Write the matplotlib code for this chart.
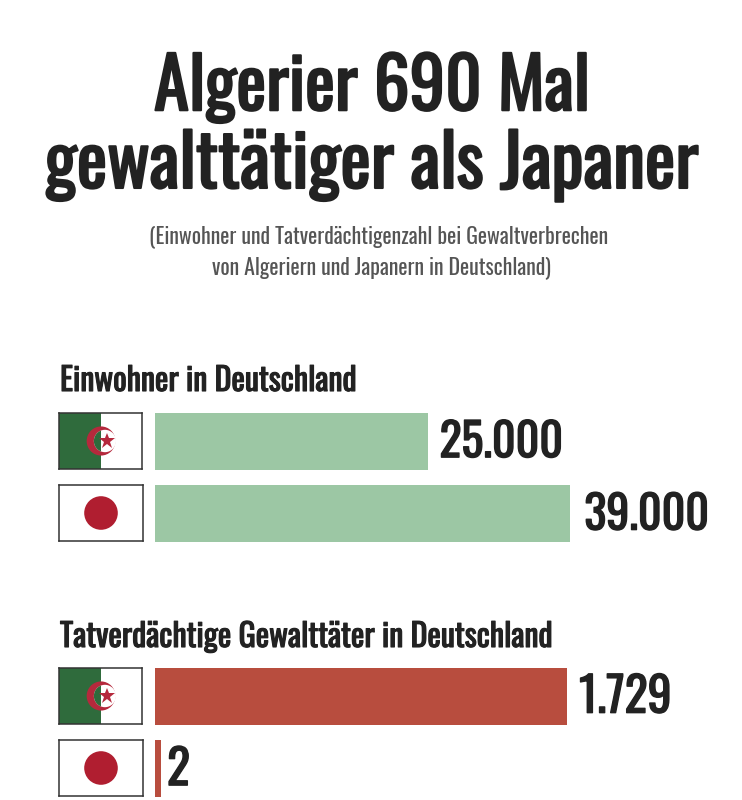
import matplotlib
matplotlib.use('Agg')
import matplotlib.pyplot as plt
import matplotlib.patheffects as pe
from matplotlib import font_manager as fm
from matplotlib.patches import Rectangle, Circle

W, H = 742, 800

laender = ['Algerien', 'Japan']
einwohner_balken = [25700, 39000]
einwohner_labels = ['25.000', '39.000']
taeter_balken = [1729, 25]
taeter_labels = ['1.729', '2']

titel = ['Algerier 690 Mal', 'gewalttätiger als Japaner']
untertitel = ['(Einwohner und Tatverdächtigenzahl bei Gewaltverbrechen',
              'von Algeriern und Japanern in Deutschland)']

GRUEN = '#9cc7a4'
ROT = '#b84d3e'
TEXT = '#222222'
FLAG_ROT = '#b5293c'
FLAG_GRUEN = '#2f6b3c'

# Oswald wenn da, sonst Roboto
namen = {f.name for f in fm.fontManager.ttflist}
SCHMAL = 'Oswald' if 'Oswald' in namen else 'Roboto'


def fett(breite):
    # Oswald gibt es hier nur normal, also dicker nachziehen
    return [pe.withStroke(linewidth=breite, foreground=TEXT)]


def px_axes(fig, x0, y0, x1, y1):
    return fig.add_axes([x0 / W, 1 - y1 / H, (x1 - x0) / W, (y1 - y0) / H])


def flagge(fig, land, x0, y0, x1, y1):
    ax = px_axes(fig, x0, y0, x1, y1)
    ax.set_xlim(0, 3)
    ax.set_ylim(0, 2)
    ax.set_xticks([])
    ax.set_yticks([])
    for s in ax.spines.values():
        s.set_linewidth(1.1)
        s.set_color('#333333')
    if land == 'Algerien':
        ax.add_patch(Rectangle((0, 0), 1.5, 2, color=FLAG_GRUEN, lw=0))
        ax.add_patch(Circle((1.52, 1), 0.52, color=FLAG_ROT, lw=0))
        innen = Circle((1.66, 1), 0.4, color='white', lw=0)
        ax.add_patch(innen)
        rest = Rectangle((0, 0), 1.5, 2, color=FLAG_GRUEN, lw=0)
        ax.add_patch(rest)
        rest.set_clip_path(innen)
        ax.plot([1.74], [1], marker='*', ms=12, color=FLAG_ROT, mew=0)
    else:
        ax.add_patch(Circle((1.5, 1), 0.6, color='#b01e30', lw=0))


def balken(fig, werte, labels, farbe, y0, y1, xmax, x1, groesse, abstand):
    ax = px_axes(fig, 155, y0, x1, y1)
    ax.barh(range(len(werte)), werte, height=0.78, color=farbe)
    ax.set_xlim(0, xmax)
    ax.set_ylim(1.39, -0.39)
    ax.axis('off')
    for i, (w, l) in enumerate(zip(werte, labels)):
        ax.annotate(l, (w, i), xytext=(abstand[i], -1), textcoords='offset points',
                    va='center', ha='left', fontsize=groesse, family=SCHMAL,
                    color=TEXT, annotation_clip=False, path_effects=fett(1.0))


fig = plt.figure(figsize=(W / 100, H / 100), dpi=100, facecolor='white')

fig.text(372 / W, 1 - 88 / H, titel[0], ha='center', va='center', fontsize=51,
         family=SCHMAL, color=TEXT, path_effects=fett(1.5))
fig.text(372 / W, 1 - 166 / H, titel[1], ha='center', va='center', fontsize=52,
         family=SCHMAL, color=TEXT, path_effects=fett(1.5))
fig.text(379 / W, 1 - 237 / H, untertitel[0], ha='center', va='center', fontsize=15.7,
         family=SCHMAL, color='#555555')
fig.text(381 / W, 1 - 268 / H, untertitel[1], ha='center', va='center', fontsize=15.7,
         family=SCHMAL, color='#555555')

fig.text(60 / W, 1 - 381 / H, 'Einwohner in Deutschland', ha='left', va='center',
         fontsize=23, family=SCHMAL, color=TEXT, path_effects=fett(0.8))
fig.text(60 / W, 1 - 637 / H, 'Tatverdächtige Gewalttäter in Deutschland', ha='left',
         va='center', fontsize=23, family=SCHMAL, color=TEXT, path_effects=fett(0.8))

balken(fig, einwohner_balken, einwohner_labels, GRUEN, 413, 542, 39000, 570, 33, [8, 10.4])
balken(fig, taeter_balken, taeter_labels, ROT, 668, 797, 1729, 567, 34.5, [8.7, 4.4])

for y0 in (413, 668):
    flagge(fig, laender[0], 59, y0, 142, y0 + 56)
    flagge(fig, laender[1], 59, y0 + 72, 143, y0 + 128)

fig.savefig('out.png', dpi=100)
